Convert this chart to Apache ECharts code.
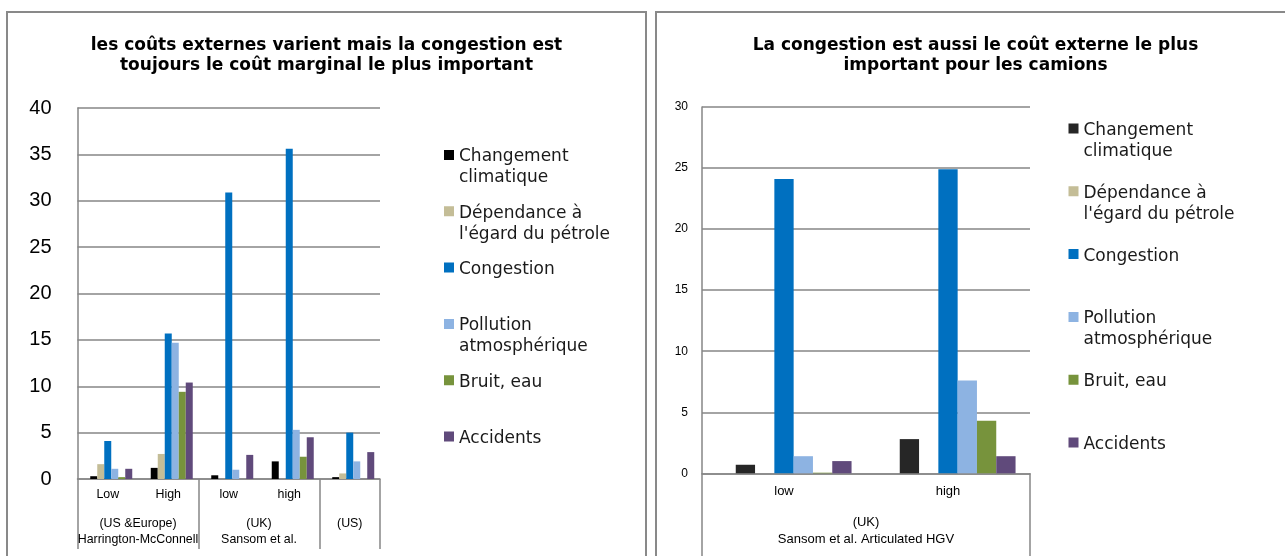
<!DOCTYPE html>
<html>
<head>
<meta charset="utf-8">
<title>Coûts externes</title>
<script src="https://cdn.jsdelivr.net/npm/echarts@6/dist/echarts.min.js"></script>
<style>
  html, body { margin: 0; padding: 0; background: #fff; overflow: hidden; width: 1285px; height: 556px; }
  .panel { position: absolute; top: 11px; width: 637px; height: 600px; border: 2px solid #898989; background: #fff; }
  #left { left: 6px; }
  #right { left: 655px; }
</style>
</head>
<body>
<div id="left" class="panel"></div>
<div id="right" class="panel"></div>
<script>
// series (same order in both charts)
const seriesNames = ['Changement climatique', "Dépendance à l'égard du pétrole", 'Congestion',
  'Pollution atmosphérique', 'Bruit, eau', 'Accidents']
const legendLabels = ['Changement\nclimatique', "Dépendance à\nl'égard du pétrole", 'Congestion\n\u00a0',
  'Pollution\natmosphérique', 'Bruit, eau\n\u00a0', 'Accidents\n\u00a0']

// left chart: voitures
const leftTitle = 'les coûts externes varient mais la congestion est\ntoujours le coût marginal le plus important'
const leftCategories = ['Low', 'High', 'low', 'high', '']
const leftGroups = ['(US &Europe)\nHarrington-McConnell', '(UK)\nSansom et al.', '(US)']
const leftGroupSpans = [2, 2, 1]
const leftSpacer = [null, null, null, null, null]
const leftClimat = [0.3, 1.2, 0.4, 1.9, 0.2]
const leftPetrole = [1.6, 2.7, 0, 0, 0.6]
const leftCongestion = [4.1, 15.7, 30.9, 35.6, 5.0]
const leftPollution = [1.1, 14.7, 1.0, 5.3, 1.9]
const leftBruit = [0.2, 9.4, 0, 2.4, 0]
const leftAccidents = [1.1, 10.4, 2.6, 4.5, 2.9]
const leftYMax = 40
const leftYStep = 5

// right chart: camions
const rightTitle = 'La congestion est aussi le coût externe le plus\nimportant pour les camions'
const rightCategories = ['low', 'high']
const rightGroups = ['(UK)\nSansom et al. Articulated HGV']
const rightGroupSpans = [2]
const rightSpacer = [null, null]
const rightClimat = [0.7, 2.8]
const rightPetrole = [0, 0]
const rightCongestion = [24.1, 24.9]
const rightPollution = [1.4, 7.6]
const rightBruit = [0.05, 4.3]
const rightAccidents = [1.0, 1.4]
const rightYMax = 30
const rightYStep = 5

const leftColors = ['#000000', '#c4bd97', '#0070c0', '#8db3e2', '#77933c', '#604a7b']
const rightColors = ['#262626', '#c4bd97', '#0070c0', '#8db3e2', '#77933c', '#604a7b']

const gridColor = '#868686'
// square sitting on the first text line of a two-line legend entry (box 10 x 42)
const legendIcon = 'path://M0,0h0.01v0.01h-0.01zM9.99,41.99h0.01v0.01h-0.01zM0,3.5h10v10h-10z'

function groupEdges(spans) {
  let edges = [0]
  spans.forEach(s => edges.push(edges[edges.length - 1] + s))
  return edges
}
function groupCenters(spans) {
  let edges = groupEdges(spans)
  return spans.map((s, i) => edges[i] + s / 2)
}

function buildOption(cfg) {
  const centers = groupCenters(cfg.spans)
  const edges = groupEdges(cfg.spans)
  const total = edges[edges.length - 1]

  let series = [{
    name: 'spacer', type: 'bar', data: cfg.spacer,
    barWidth: cfg.barWidth, barGap: '0%', silent: true
  }]
  cfg.values.forEach((vals, i) => {
    series.push({
      name: seriesNames[i],
      type: 'bar',
      data: vals,
      barWidth: cfg.barWidth,
      barGap: '0%',
      itemStyle: { color: cfg.colors[i] }
    })
  })

  return {
    animation: false,
    title: {
      text: cfg.title,
      left: 'center',
      top: 18,
      textStyle: { fontFamily: 'DejaVu Sans', fontWeight: 'bold', fontSize: 17, lineHeight: 20, color: '#000' }
    },
    legend: {
      data: seriesNames.map((n, i) => ({ name: n, itemStyle: { color: cfg.colors[i] } })),
      orient: 'vertical',
      left: cfg.legendLeft,
      top: cfg.legendTop,
      itemGap: cfg.legendGap,
      itemWidth: 10,
      itemHeight: 42,
      icon: legendIcon,
      selectedMode: false,
      formatter: name => legendLabels[seriesNames.indexOf(name)],
      textStyle: { fontFamily: 'DejaVu Sans', fontSize: 17, lineHeight: 21, color: '#1a1a1a' }
    },
    grid: cfg.grid,
    xAxis: [{
      type: 'category',
      data: cfg.categories,
      axisLine: { lineStyle: { color: gridColor, width: 1.5 } },
      axisTick: { show: false },
      axisLabel: { margin: cfg.catMargin, fontSize: cfg.catFont, color: '#000', fontFamily: 'Liberation Sans' }
    }, {
      type: 'value',
      position: 'bottom',
      min: 0,
      max: total,
      axisLine: { show: false },
      splitLine: { show: false },
      axisTick: { show: true, customValues: edges, length: cfg.sepLength, lineStyle: { color: gridColor, width: 1.5 } },
      axisLabel: {
        customValues: centers,
        margin: cfg.groupMargin,
        fontSize: cfg.catFont,
        lineHeight: cfg.groupLine,
        color: '#000',
        fontFamily: 'Liberation Sans',
        formatter: v => {
          let k = centers.indexOf(v)
          return k >= 0 ? cfg.groups[k] : ''
        }
      }
    }],
    yAxis: {
      type: 'value',
      min: 0,
      max: cfg.yMax,
      interval: cfg.yStep,
      axisLine: { show: true, lineStyle: { color: gridColor, width: 1.5 } },
      axisTick: { show: false },
      splitLine: { lineStyle: { color: gridColor, width: 1.5 } },
      axisLabel: { fontSize: cfg.yFont, color: '#000', margin: cfg.yMargin, fontFamily: 'Liberation Sans' }
    },
    series: series
  }
}

const leftChart = echarts.init(document.getElementById('left'))
leftChart.setOption(buildOption({
  title: leftTitle,
  categories: leftCategories,
  groups: leftGroups,
  spans: leftGroupSpans,
  spacer: leftSpacer,
  values: [leftClimat, leftPetrole, leftCongestion, leftPollution, leftBruit, leftAccidents],
  colors: leftColors,
  yMax: leftYMax,
  yStep: leftYStep,
  grid: { left: 69.5, top: 95, width: 302.5, height: 371 },
  barWidth: 7,
  legendLeft: 431,
  legendTop: 128.5,
  legendGap: 14.3,
  catMargin: 10,
  catFont: 12.4,
  groupMargin: 37,
  groupLine: 16,
  sepLength: 70,
  yFont: 20,
  yMargin: 26
}))

const rightChart = echarts.init(document.getElementById('right'))
rightChart.setOption(buildOption({
  title: rightTitle,
  categories: rightCategories,
  groups: rightGroups,
  spans: rightGroupSpans,
  spacer: rightSpacer,
  values: [rightClimat, rightPetrole, rightCongestion, rightPollution, rightBruit, rightAccidents],
  colors: rightColors,
  yMax: rightYMax,
  yStep: rightYStep,
  grid: { left: 45, top: 94, width: 328, height: 366.3 },
  barWidth: 19.3,
  legendLeft: 406.5,
  legendTop: 102,
  legendGap: 20.8,
  catMargin: 12,
  catFont: 13,
  groupMargin: 41,
  groupLine: 17,
  sepLength: 100,
  yFont: 12,
  yMargin: 14
}))
</script>
</body>
</html>
